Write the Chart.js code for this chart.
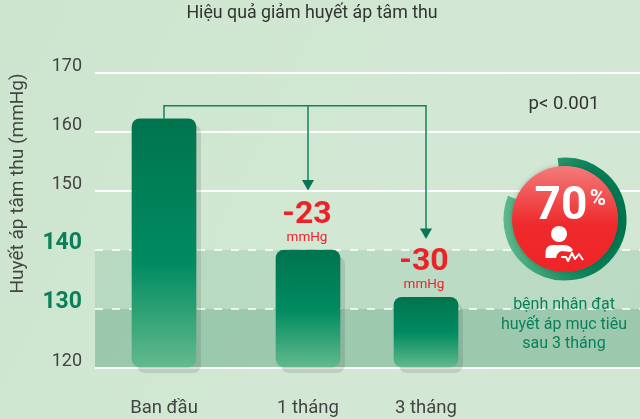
<!DOCTYPE html>
<html><head><meta charset="utf-8">
<style>html,body{margin:0;padding:0;width:640px;height:419px;overflow:hidden;background:linear-gradient(115deg,#cde5ce,#d2e8d4 60%,#d1e7d3)}
#w{position:relative;width:640px;height:419px}</style>
<script src="https://cdn.jsdelivr.net/npm/chart.js@4"></script></head>
<body><div id="w"><canvas id="c" width="640" height="419"></canvas></div>
<script>
const categories = ['Ban đầu','1 tháng','3 tháng'];
const categorySlots = [0,144,262];
const sbpValues = [162.3,140,132];
const changeLabels = ['-23','-30'];
const highlightedTicks = [130,140];
const bandValues = [[120,130,'rgba(50,140,100,0.33)'],[130,140,'rgba(50,140,100,0.14)']];
const bracketTop = 164.5;
const arrowEnds = [151.3,143.1];
const achievedPct = 70;
const noteLines = ['bệnh nhân đạt','huyết áp mục tiêu','sau 3 tháng'];
const FONT = 'Roboto';
const GREEN = '#0a7f5a', GRAY = '#444', RED = '#ee2128';
const isHi = c => !!c.tick && highlightedTicks.includes(c.tick.value);

function barFill(ctx){
  const {chart,parsed,dataIndex} = ctx;
  if(!chart.chartArea || !parsed) return '#00754f';
  const y = chart.scales.y, t = y.getPixelForValue(parsed.y), b = y.getPixelForValue(120);
  const g = chart.ctx.createLinearGradient(0,t,0,b);
  g.addColorStop(0,'#00744e'); g.addColorStop([.58,.51,.5][dataIndex],'#008b61'); g.addColorStop(1,'#64ba8d');
  return g;
}
const bg = {id:'bands',beforeDraw(ch){
  const {ctx,chartArea:a,scales:{y}} = ch;
  for(const [lo,hi,col] of bandValues){
    ctx.fillStyle = col;
    ctx.fillRect(a.left,y.getPixelForValue(hi),a.width,y.getPixelForValue(lo)-y.getPixelForValue(hi));
  }
}};
const place = {id:'place',afterLayout(ch){
  if(ch.titleBlock){ ch.titleBlock.left = 0; ch.titleBlock.right = 624; }
}};
const shadow = {id:'shadow',beforeDatasetsDraw(ch){
  const c = ch.ctx; c.save();
  c.fillStyle='rgba(50,60,50,.14)';
  ch.getDatasetMeta(0).data.forEach(el=>{
    const {x,y,base,width}=el.getProps(['x','y','base','width'],true);
    c.beginPath(); c.roundRect(x-width/2+5,y+6,width,base-y,8); c.fill();
  });
  c.restore();
}};
const notes = {id:'notes',afterDatasetsDraw(ch){
  const {ctx:c,scales:{x,y}} = ch;
  c.save(); c.textAlign='center'; c.textBaseline='middle';
  [1,2].forEach((i,k)=>{
    const px=x.getPixelForValue(categorySlots[i])-1-(k?1:0), top=y.getPixelForValue(sbpValues[i]);
    c.fillStyle=RED; c.font=`700 32px ${FONT}`; c.fillText(changeLabels[k],px,top-35);
    c.font=`400 13.5px ${FONT}`; c.fillText('mmHg',px,top-13);
  });
  c.fillStyle='#333'; c.font=`400 18.5px ${FONT}`; c.fillText('p< 0.001',564,104);
  const cx=565,cy=219;
  const start=-Math.PI/2-0.12, end=start+5.22;
  const rg=c.createLinearGradient(cx-60,cy,cx+60,cy);
  rg.addColorStop(0,'#5cb88b'); rg.addColorStop(.7,'#0a8059'); rg.addColorStop(1,'#00744e');
  c.strokeStyle=rg; c.lineWidth=9; c.beginPath(); c.arc(cx,cy,57,start,end); c.stroke();
  c.save(); c.shadowColor='rgba(0,0,0,.2)'; c.shadowBlur=5;
  const rr=c.createLinearGradient(0,cy-53,0,cy+53);
  rr.addColorStop(0,'#f47b7b'); rr.addColorStop(.55,'#ee2a2c'); rr.addColorStop(1,'#ee2428');
  c.fillStyle=rr; c.beginPath(); c.arc(cx,cy,53,0,7); c.fill(); c.restore();
  c.fillStyle='#fff'; c.font=`700 46px ${FONT}`; c.textAlign='center';
  c.fillText(String(achievedPct),561,207);
  c.font=`700 22px ${FONT}`; c.fillText('%',598,199);
  c.beginPath(); c.arc(559,234,8,0,7); c.fill();
  c.beginPath(); c.moveTo(545.5,258); c.lineTo(545.5,252); c.quadraticCurveTo(546,245,553,245);
  c.lineTo(564,245); c.quadraticCurveTo(570,245,573,250); c.lineTo(571,252); c.lineTo(562,251);
  c.quadraticCurveTo(557,252,556,258); c.closePath(); c.fill();
  c.strokeStyle='#fff'; c.lineWidth=2; c.lineJoin='round'; c.beginPath();
  c.moveTo(561,257); c.lineTo(566,257); c.lineTo(568,261); c.lineTo(572,253); c.lineTo(575,259); c.lineTo(579,254); c.lineTo(583,260); c.stroke();
  c.fillStyle=GREEN; c.font=`400 16px ${FONT}`;
  noteLines.forEach((t,i)=>c.fillText(t,564,305+i*19.5));
  c.restore();
}};
const lineBase = {type:'line',showLine:true,borderColor:'#16805f',borderWidth:1.5,tension:0,fill:false,order:-1,
  pointBackgroundColor:'#0a7556',pointBorderWidth:0,pointStyle:'triangle',pointRotation:180,pointHoverRadius:0};
const pt = (slot,val)=>({x:categorySlots[slot],y:val});
new Chart(document.getElementById('c'),{
  data:{datasets:[
    {type:'bar',data:categorySlots.map((s,i)=>({x:s,y:sbpValues[i]})),backgroundColor:barFill,barThickness:64,base:120,
     borderRadius:8,borderSkipped:false,order:1,clip:false},
    {...lineBase,data:[pt(0,sbpValues[0]),pt(0,bracketTop),pt(2,bracketTop),pt(2,arrowEnds[1]),pt(2,arrowEnds[1])],pointRadius:[0,0,0,7,0]},
    {...lineBase,data:[pt(1,bracketTop),pt(1,arrowEnds[0]),pt(1,arrowEnds[0])],pointRadius:[0,7,0]}
  ]},
  options:{
    responsive:false,animation:false,events:[],
    layout:{padding:0},
    plugins:{legend:{display:false},tooltip:{enabled:false},
      title:{display:true,text:'Hiệu quả giảm huyết áp tâm thu',color:'#333',font:{family:FONT,size:17.8,weight:'400'},padding:{top:3,bottom:49}}},
    scales:{
      x:{type:'linear',offset:false,min:-69,max:476,grid:{display:false},border:{display:false},
        afterBuildTicks(s){s.ticks=categorySlots.map(v=>({value:v}));},
        afterFit(s){s.height=51;s.paddingLeft=0;s.paddingRight=0;},
        ticks:{autoSkip:false,maxRotation:0,color:GRAY,font:{family:FONT,size:18.5},padding:21,
          callback:(v)=>categories[categorySlots.indexOf(v)]}},
      y:{min:120,max:170,afterFit(s){s.width=95;},
        border:{display:false,dash:c=>isHi(c)?[8,9]:[]},
        grid:{drawTicks:false,color:c=>isHi(c)?'rgba(255,255,255,.75)':'rgba(255,255,255,.95)',lineWidth:2},
        ticks:{stepSize:10,padding:13,labelOffset:-7,
          color:c=>isHi(c)?GREEN:GRAY,
          font:c=>isHi(c)?{family:FONT,size:23,weight:'700'}:{family:FONT,size:18,weight:'400'}},
        title:{display:true,align:'end',text:'Huyết áp tâm thu (mmHg)',color:GRAY,font:{family:FONT,size:19},padding:{top:7,bottom:0}}}
    }
  },
  plugins:[bg,place,shadow,notes]
});
</script></body></html>
